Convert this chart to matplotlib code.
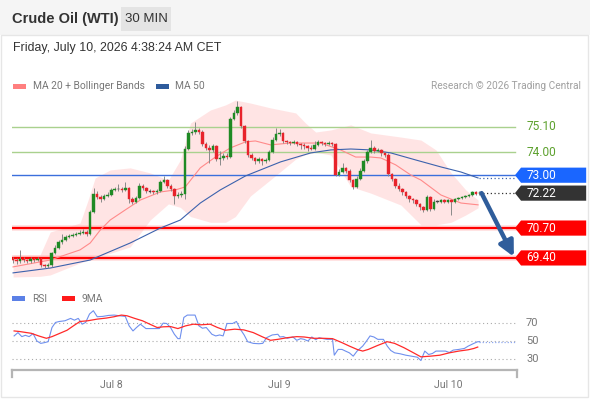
import matplotlib
matplotlib.use("Agg")
import matplotlib.pyplot as plt
import matplotlib.transforms as mtransforms
from matplotlib.patches import Rectangle, Polygon
import numpy as np

plt.rcParams["font.family"] = ["Roboto", "DejaVu Sans"]

# ── price data (30 min candles, open of each bar = previous close) ──
FIRST_OPEN = 69.35
CLOSE = [
    69.30, 69.25, 69.35, 69.30, 69.25, 69.35, 69.30, 69.35, 69.10, 69.05,
    69.10, 69.60, 69.85, 70.10, 70.20, 70.30, 70.35, 70.40, 70.45, 70.50,
    70.55, 70.45, 71.40, 72.20, 72.05, 71.95, 72.10, 72.15, 72.35, 72.40,
    72.40, 72.35, 72.45, 71.95, 71.85, 72.00, 72.55, 72.45, 72.30, 72.30,
    72.25, 72.30, 72.70, 72.80, 72.55, 72.40, 72.10, 72.15, 72.20, 74.15,
    74.85, 74.90, 74.95, 74.90, 74.35, 74.20, 74.10, 74.25, 73.70, 73.75,
    73.85, 73.80, 75.45, 75.70, 75.95, 75.15, 74.50, 73.90, 73.75, 73.60,
    73.70, 73.60, 73.65, 74.00, 74.55, 74.80, 74.85, 74.50, 74.45, 74.40,
    74.45, 74.35, 74.30, 74.25, 74.20, 74.15, 74.30, 74.45, 74.40, 74.35,
    74.40, 74.35, 73.00, 73.15, 73.30, 73.20, 72.80, 72.50, 72.85, 73.20,
    73.60, 74.00, 74.20, 74.05, 74.10, 73.95, 73.90, 73.05, 72.85, 72.55,
    72.40, 72.25, 72.10, 71.95, 71.90, 71.75, 71.60, 71.50, 72.05, 71.55,
    71.85, 71.85, 71.90, 71.85, 71.90, 71.85, 71.95, 72.00, 72.05, 72.10,
    72.15, 72.25, 72.20, 72.22,
]
HIGH = [
    69.42, 69.38, 69.75, 69.42, 69.36, 69.44, 69.40, 69.45, 69.40, 69.15,
    69.18, 69.68, 69.95, 70.20, 70.45, 70.40, 70.45, 70.50, 70.55, 70.60,
    70.65, 70.62, 71.50, 72.45, 72.30, 72.15, 72.20, 72.25, 72.45, 72.50,
    72.60, 72.48, 72.70, 72.50, 72.05, 72.10, 72.65, 72.62, 72.50, 72.40,
    72.35, 72.40, 72.80, 72.95, 72.85, 72.60, 72.45, 72.25, 72.30, 74.25,
    74.95, 75.00, 75.30, 75.05, 74.95, 74.45, 74.30, 74.35, 74.30, 74.05,
    73.95, 73.95, 75.55, 75.85, 76.25, 76.00, 75.20, 74.55, 73.95, 73.80,
    73.80, 73.75, 73.75, 74.10, 74.65, 75.05, 75.00, 74.90, 74.55, 74.50,
    74.55, 74.50, 74.40, 74.40, 74.30, 74.30, 74.50, 74.55, 74.50, 74.45,
    74.50, 74.45, 74.40, 73.25, 73.55, 73.35, 73.25, 72.85, 72.95, 73.30,
    73.70, 74.10, 74.55, 74.25, 74.20, 74.15, 74.00, 73.95, 73.10, 72.90,
    72.65, 72.45, 72.30, 72.15, 72.00, 71.95, 71.80, 71.65, 72.15, 72.10,
    71.95, 71.92, 71.98, 71.95, 71.98, 71.95, 72.00, 72.05, 72.10, 72.15,
    72.20, 72.30, 72.30, 72.30,
]
LOW = [
    69.18, 69.15, 69.20, 69.22, 69.18, 69.20, 69.22, 69.25, 69.02, 68.98,
    68.98, 69.02, 69.55, 69.80, 70.00, 70.15, 70.25, 70.30, 70.35, 70.40,
    70.45, 70.35, 70.40, 71.35, 71.95, 71.85, 71.90, 72.05, 72.10, 72.30,
    72.32, 72.28, 72.30, 71.80, 71.75, 71.80, 71.95, 72.35, 72.22, 72.22,
    72.18, 72.20, 72.25, 72.65, 72.45, 72.30, 71.75, 72.00, 72.05, 71.95,
    74.10, 74.75, 74.80, 74.80, 74.25, 74.10, 73.55, 74.00, 73.60, 73.45,
    73.65, 73.70, 73.75, 75.40, 75.60, 75.05, 74.40, 73.80, 73.65, 73.50,
    73.55, 73.45, 73.55, 73.60, 73.95, 74.50, 74.70, 74.40, 74.35, 74.30,
    74.35, 74.25, 74.15, 74.15, 74.05, 74.10, 74.10, 74.25, 74.30, 74.25,
    74.30, 74.25, 72.95, 72.95, 73.10, 73.10, 72.70, 72.40, 72.45, 72.80,
    73.15, 73.55, 73.95, 73.95, 74.00, 73.85, 73.80, 72.95, 72.75, 72.45,
    72.30, 72.15, 72.00, 71.85, 71.80, 71.65, 71.50, 71.40, 71.45, 71.45,
    71.50, 71.78, 71.80, 71.78, 71.80, 71.25, 71.80, 71.90, 71.95, 72.00,
    72.05, 72.10, 72.12, 72.15,
]

# MA 20 + Bollinger bands, MA 50 (bar index, price)
MA20_X = [0, 10.6, 19.1, 22, 24.9, 27.7, 32, 36.3, 42, 46.3, 49.1, 53.4, 57.7, 62,
          66.3, 69.1, 73.4, 79.1, 87.7, 93.4, 97.7, 102, 104.9, 109.1, 113.4,
          116.3, 122, 127.7, 132.6]
MA20_Y = [69.01, 69.31, 69.75, 70.05, 70.62, 71.05, 71.49, 71.92, 72.27, 72.36,
          72.49, 73.32, 73.79, 74.19, 74.45, 74.49, 74.32, 74.40, 74.40, 74.10,
          73.79, 73.79, 73.75, 73.45, 73.01, 72.79, 72.14, 71.79, 71.71]
UPPER_X = [0, 7.7, 10.6, 19.1, 21.4, 23.4, 27.7, 33.4, 39.1, 44.3, 47.7, 50.6, 56.3,
           60.6, 63.4, 67.7, 73.4, 80.6, 83.4, 86.3, 90.6, 96.3, 102, 110.6, 116.3,
           120.6, 124.9, 129.1, 132.6]
UPPER_Y = [69.53, 69.53, 70.53, 70.92, 71.92, 72.88, 73.23, 73.32, 73.10, 72.79,
           73.66, 75.27, 75.84, 76.06, 76.27, 76.14, 75.93, 75.71, 75.27, 74.88,
           74.97, 75.19, 74.84, 74.66, 74.53, 74.10, 73.10, 72.36, 71.92]
LOWER_Y = [68.57, 68.60, 68.66, 69.18, 69.30, 69.45, 69.60, 69.88, 71.05, 71.75,
           71.60, 71.20, 70.95, 70.95, 71.20, 72.10, 72.80, 73.70, 73.90, 74.00,
           73.88, 72.50, 72.22, 71.70, 70.84, 70.84, 70.95, 71.27, 71.58]
MA50_X = [0, 10.6, 22, 33.4, 42, 47.7, 53.4, 59.1, 66.3, 76.3, 84.9, 90.6, 96.3,
          102, 107.7, 114.9, 122, 127.7, 132.6]
MA50_Y = [68.75, 68.96, 69.31, 70.05, 70.70, 71.05, 71.79, 72.36, 72.97, 73.58,
          73.97, 74.10, 74.14, 74.10, 73.97, 73.66, 73.36, 73.14, 72.88]

# RSI and its 9 period MA (bar index, value)
RSI_X = [0.3, 1.4, 2.5, 3.5, 4.6, 5.7, 6.8, 7.9, 8.9, 10.0, 11.1, 12.1, 13.2, 14.8,
         16.4, 17.5, 18.6, 19.7, 20.7, 21.8, 22.9, 24.0, 25.6, 27.2, 28.8, 30.4,
         32.0, 33.1, 34.2, 35.2, 36.3, 37.9, 39.5, 41.7, 42.8, 43.8, 44.9, 46.0,
         47.0, 47.6, 48.7, 49.7, 51.9, 53.0, 54.0, 55.1, 56.7, 57.8, 58.9, 59.9,
         61.0, 62.6, 63.7, 64.8, 65.9, 66.9, 68.5, 70.1, 71.2, 72.3, 73.9, 75.5,
         76.1, 77.1, 78.2, 79.8, 80.9, 82.0, 83.0, 84.1, 85.2, 86.3, 87.3, 88.4,
         89.5, 91.1, 91.6, 92.7, 93.8, 94.8, 95.9, 97.0, 98.1, 99.7, 100.8, 101.8,
         102.9, 104.0, 105.6, 106.7, 107.7, 108.8, 110.4, 112.0, 113.6, 115.3,
         116.3, 117.4, 118.5, 119.6, 120.6, 121.7, 123.3, 124.4, 125.5, 127.1,
         128.7, 129.8, 131.4, 132.5, 133.0]
RSI_Y = [55.8, 59.6, 55.0, 56.5, 55.0, 58.5, 50.0, 47.3, 48.1, 49.2, 65.4, 71.2,
         72.3, 73.1, 75.8, 73.8, 75.8, 69.2, 71.2, 80.8, 84.6, 77.7, 78.1, 79.2,
         79.6, 78.8, 78.1, 67.3, 61.5, 65.4, 69.2, 64.2, 64.2, 64.2, 70.4, 70.0,
         65.4, 57.7, 52.7, 52.7, 76.9, 79.6, 79.6, 67.3, 64.6, 65.4, 57.7, 55.8,
         56.9, 55.8, 70.0, 70.0, 72.3, 63.5, 56.9, 49.2, 47.3, 46.9, 47.3, 53.8,
         56.9, 57.7, 54.6, 55.0, 53.1, 54.6, 50.8, 52.7, 51.9, 50.0, 54.6, 51.5,
         53.8, 52.7, 51.9, 51.9, 33.8, 40.4, 40.4, 38.5, 36.5, 32.7, 38.5, 44.2,
         50.0, 55.8, 54.6, 51.9, 51.9, 44.2, 39.2, 36.5, 35.4, 33.8, 32.7, 31.5,
         27.7, 38.5, 34.6, 35.8, 38.5, 38.5, 38.5, 36.9, 39.6, 40.4, 41.5, 44.2,
         47.3, 49.2, 49.2]
RSI_MA_X = [0.3, 1.9, 5.2, 7.3, 9.5, 11.1, 12.7, 15.4, 17.5, 19.1, 21.3, 24.0, 26.6,
            28.8, 30.9, 32.5, 34.7, 36.9, 39.0, 41.1, 42.8, 44.9, 47.0, 49.2, 51.4,
            53.5, 56.2, 58.3, 60.5, 63.2, 65.8, 68.5, 71.2, 73.4, 75.5, 78.2, 80.9,
            83.0, 85.7, 88.4, 91.1, 93.8, 95.9, 98.1, 99.7, 101.3, 104.0, 106.7,
            108.8, 111.5, 114.2, 116.3, 119.0, 121.7, 124.4, 127.1, 129.8, 131.4,
            132.5]
RSI_MA_Y = [61.5, 60.8, 58.8, 55.8, 53.1, 55.0, 57.7, 62.3, 68.1, 72.3, 73.1, 75.0,
            76.2, 77.7, 79.6, 78.8, 75.8, 73.1, 69.2, 65.4, 66.2, 66.5, 64.2, 67.3,
            69.2, 68.5, 69.2, 65.4, 62.3, 63.5, 62.7, 59.6, 54.6, 50.8, 51.9, 53.8,
            55.0, 54.6, 53.1, 53.1, 52.7, 48.1, 44.2, 40.4, 38.5, 40.4, 45.0, 49.2,
            47.3, 42.3, 36.5, 31.9, 32.7, 33.8, 36.5, 38.5, 40.0, 41.5, 43.1]

DAY_TICKS = [28, 76, 124]
DAY_LABELS = ["Jul 8", "Jul 9", "Jul 10"]

RESISTANCES = [75.10, 74.00]
PIVOT = 73.00
SUPPORTS = [70.70, 69.40]
LAST = 72.22
RSI_LEVELS = [70, 50, 30]

W, H = 590, 400
XLIM = (-0.3, 143.7)

UP = "#1f8a24"
DOWN = "#e8232b"


def fx(px):
    return px / W


def fy(py):
    return 1 - py / H


fig = plt.figure(figsize=(W / 100, H / 100), dpi=100)
fig.patch.set_facecolor("white")

# header band + frame
fig.patches.append(Rectangle((0, fy(35)), 1, 35 / H, transform=fig.transFigure,
                             facecolor="#f5f5f5", edgecolor="none", zorder=0))
fig.patches.append(Rectangle((fx(1), fy(397)), fx(587), 362 / H, transform=fig.transFigure,
                             facecolor="none", edgecolor="#e6e6e6", lw=1, zorder=0))
fig.patches.append(Rectangle((fx(121), fy(31)), fx(50), 24 / H, transform=fig.transFigure,
                             facecolor="#e4e4e4", edgecolor="none", zorder=1))
fig.text(fx(12), fy(19), "Crude Oil (WTI)", fontsize=10.5, fontweight="bold",
         color="#333333", va="center", family=["Liberation Sans", "DejaVu Sans"])
fig.text(fx(146), fy(19), "30 MIN", fontsize=9.5, color="#333333", va="center", ha="center",
         family=["Liberation Sans", "DejaVu Sans"])
fig.text(fx(13), fy(48), "Friday, July 10, 2026 4:38:24 AM CET", fontsize=8.9,
         color="#333333", va="center", family=["Liberation Sans", "DejaVu Sans"])

# legends
fig.patches.append(Rectangle((fx(13), fy(89)), fx(13), 5 / H, transform=fig.transFigure,
                             facecolor="#ff7f7f", edgecolor="none"))
fig.text(fx(33), fy(86), "MA 20 + Bollinger Bands", fontsize=7.4, color="#777777", va="center")
fig.patches.append(Rectangle((fx(156), fy(89)), fx(13), 5 / H, transform=fig.transFigure,
                             facecolor="#2e5b9c", edgecolor="none"))
fig.text(fx(175), fy(86), "MA 50", fontsize=7.4, color="#777777", va="center")
fig.text(fx(581), fy(86), "Research \u00a9 2026 Trading Central", fontsize=7.3,
         color="#a0a0a0", va="center", ha="right")

fig.patches.append(Rectangle((fx(12), fy(301)), fx(13), 5 / H, transform=fig.transFigure,
                             facecolor="#5b80e6", edgecolor="none"))
fig.text(fx(32), fy(299), "RSI", fontsize=7.4, color="#777777", va="center")
fig.patches.append(Rectangle((fx(62), fy(301)), fx(13), 5 / H, transform=fig.transFigure,
                             facecolor="#ff1a1a", edgecolor="none"))
fig.text(fx(82), fy(299), "9MA", fontsize=7.4, color="#777777", va="center")

# ── main price panel ──
ax = fig.add_axes([fx(12), fy(280), fx(505), 185 / H])
ax.set_xlim(*XLIM)
ax.set_ylim(68.44, 76.49)
ax.axis("off")

idx = np.arange(len(CLOSE))
close = np.array(CLOSE)
opens = np.r_[FIRST_OPEN, close[:-1]]

ax.fill_between(UPPER_X, LOWER_Y, UPPER_Y, color="#ffdcdc", alpha=0.75, lw=0, zorder=1)
ax.plot(MA20_X, MA20_Y, color="#ff8a8a", lw=0.8, zorder=2)
ax.plot(MA50_X, MA50_Y, color="#3c62ad", lw=0.8, zorder=2)

blend = mtransforms.blended_transform_factory(ax.transAxes, ax.transData)
xr = 0.996  # right end of the level lines

for lv in RESISTANCES:
    ax.plot([0, xr], [lv, lv], transform=blend, color="#a9d18e", lw=1, zorder=1.5)
ax.plot([0, xr], [PIVOT, PIVOT], transform=blend, color="#3b6fdc", lw=1, zorder=1.5)
for lv in SUPPORTS:
    ax.plot([0, xr], [lv, lv], transform=blend, color="#ff9a9a", lw=4, alpha=0.35, zorder=1.5)
    ax.plot([0, xr], [lv, lv], transform=blend, color="#ff0000", lw=1.6, zorder=1.6)

# candles
ax.vlines(idx, LOW, HIGH, color="#8a8a8a", lw=0.7, zorder=3)
body_lo = np.minimum(opens, close)
body_h = np.abs(close - opens)
cols = np.where(close > opens, UP, np.where(close < opens, DOWN, "#444444"))
ax.bar(idx, np.maximum(body_h, 0.03), bottom=np.where(body_h < 0.03, close - 0.015, body_lo),
       width=0.72, color=cols, edgecolor=cols, lw=0.3, zorder=4)

# dotted links to the tags
last_i = idx[-1]
x_last = ax.transAxes.inverted().transform(ax.transData.transform((last_i, 0)))[0]
ax.plot([x_last, xr], [MA50_Y[-1], MA50_Y[-1]], transform=blend, color="#3c62ad",
        lw=0.9, ls=(0, (1, 2)), zorder=2)
ax.plot([x_last, xr], [LAST, LAST], transform=blend, color="#333333",
        lw=0.9, ls=(0, (1, 2)), zorder=2)

# forecast arrow
ax.annotate("", xy=(142.8, SUPPORTS[1] + 0.05), xytext=(last_i + 0.6, LAST),
            arrowprops=dict(arrowstyle="-|>,head_width=0.45,head_length=0.9",
                            color="#2f5d9b", lw=3.2, shrinkA=0, shrinkB=0), zorder=6)


def price_tag(level, label, color):
    hh = 0.33
    x0, x1, x2 = 0.996, 1.008, 1.137
    ax.add_patch(Polygon([(x0, level), (x1, level + hh), (x2, level + hh),
                          (x2, level - hh), (x1, level - hh)], closed=True,
                         transform=blend, facecolor=color, edgecolor="none",
                         clip_on=False, zorder=7))
    ax.text(1.018, level, label, transform=blend, color="white", fontsize=8.6,
            va="center", ha="left", clip_on=False, zorder=8)


for lv in RESISTANCES:
    ax.text(1.018, lv, f"{lv:.2f}", transform=blend, color="#5da12e", fontsize=8.6,
            va="center", ha="left", clip_on=False)
price_tag(PIVOT, f"{PIVOT:.2f}", "#1a66ff")
price_tag(LAST, f"{LAST:.2f}", "#333333")
for lv in SUPPORTS:
    price_tag(lv, f"{lv:.2f}", "#ff0000")

# ── RSI panel ──
ar = fig.add_axes([fx(12), fy(370), fx(505), 60 / H])
ar.set_xlim(*XLIM)
ar.set_ylim(16.9, 85.4)
for s in ["top", "left", "right"]:
    ar.spines[s].set_visible(False)
ar.spines["bottom"].set_color("#b5b5b5")
ar.spines["bottom"].set_linewidth(1.6)
ar.set_yticks([])
ar.set_xticks(DAY_TICKS)
ar.set_xticklabels(DAY_LABELS, fontsize=7.6, color="#777777")
ar.tick_params(axis="x", length=0, pad=7)
for xe in (0, 1):
    ar.plot([xe, xe], [0, -0.11], transform=ar.transAxes, color="#b5b5b5", lw=1.6,
            clip_on=False)

blend_r = mtransforms.blended_transform_factory(ar.transAxes, ar.transData)
for lv in RSI_LEVELS:
    ar.plot([0, xr], [lv, lv], transform=blend_r, color="#aaaaaa", lw=0.8, ls=(0, (1, 2.5)))
    ar.text(1.018, lv, str(lv), transform=blend_r, color="#777777", fontsize=8,
            va="center", ha="left", clip_on=False)

ar.plot(RSI_X, RSI_Y, color="#6f90ee", lw=0.8, zorder=3)
ar.plot(RSI_MA_X, RSI_MA_Y, color="#ff2a2a", lw=0.9, zorder=3)
xr_last = ar.transAxes.inverted().transform(ar.transData.transform((RSI_X[-1], 0)))[0]
ar.plot([xr_last, xr], [RSI_Y[-1], RSI_Y[-1]], transform=blend_r, color="#8fa8f0",
        lw=0.9, ls=(0, (1, 1.5)))

fig.savefig("out.png", dpi=100)
